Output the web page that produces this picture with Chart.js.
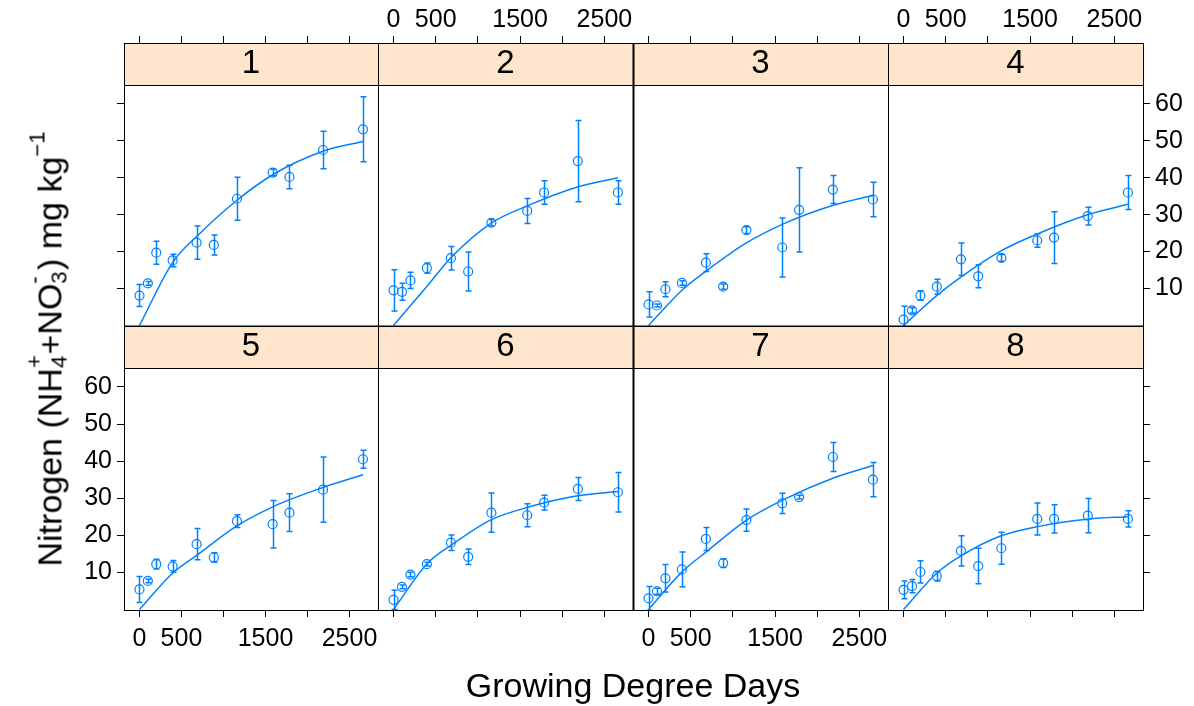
<!DOCTYPE html>
<html>
<head>
<meta charset="utf-8">
<script src="https://cdn.jsdelivr.net/npm/chart.js@4/dist/chart.umd.min.js"></script>
<style>
  body { margin: 0; background: #fff; width: 1194px; height: 706px; position: relative; overflow: hidden;
         font-family: "Liberation Sans", Arial, sans-serif; color: #000; }
  canvas.panel { position: absolute; left: 0; top: 0; }
  #xlab { position: absolute; left: 633px; top: 668px; transform: translateX(-50%); font-size: 34px; line-height: 1; white-space: nowrap; }
  #ylab { position: absolute; left: 47px; top: 349px; transform: translate(-50%, -50%) rotate(-90deg);
          font-size: 34px; line-height: 1; white-space: nowrap; }
  .ss { display: inline-block; position: relative; width: 0.4em; height: 1em; }
  .ss span { position: absolute; left: 0; font-size: 0.65em; line-height: 1; }
  .ss .up { top: -0.2em; }
  .ss .dn { top: 0.97em; }
  .sp { font-size: 0.65em; position: relative; top: -0.75em; }
</style>
</head>
<body>
<div id="charts"></div>
<div id="xlab">Growing Degree Days</div>
<div id="ylab">Nitrogen (NH<span class="ss"><span class="up">+</span><span class="dn">4</span></span>+NO<span class="ss"><span class="up">-</span><span class="dn">3</span></span>) mg kg<span class="sp">−1</span></div>
<script>
// sampling dates (growing degree days), same for every panel
const gdd = [0, 100, 200, 395, 680, 885, 1160, 1585, 1785, 2185, 2660];
const panelLabels = ['1', '2', '3', '4', '5', '6', '7', '8'];
const xTickValues = [0, 500, 1000, 1500, 2000, 2500];
const xTickLabels = ['0', '500', '', '1500', '', '2500'];
const yTickValues = [10, 20, 30, 40, 50, 60];

// mean nitrogen per panel
const nitrogenMean = [
  [8.1, 11.4, 19.7, 17.6, 22.4, 21.8, 34.3, 41.4, 40.2, 47.5, 53.1],
  [9.5, 9.1, 12.2, 15.5, 18.2, 14.6, 27.8, 31.0, 36.0, 44.5, 36.0],
  [5.7, 5.4, 9.8, 11.5, 17.0, 10.5, 25.8, 21.1, 31.3, 36.8, 34.1],
  [1.6, 4.1, 8.1, 10.5, 17.9, 13.3, 18.3, 23.0, 23.8, 29.6, 36.0],
  [5.4, 7.7, 12.2, 11.6, 17.6, 14.0, 23.8, 23.0, 26.1, 32.3, 40.5],
  [2.6, 6.1, 9.4, 12.2, 18.0, 14.2, 26.1, 25.4, 28.8, 32.5, 31.6],
  [3.0, 4.9, 8.4, 10.8, 19.0, 12.5, 24.1, 28.6, 30.3, 41.1, 35.0],
  [5.3, 6.3, 10.1, 9.0, 15.8, 11.7, 16.5, 24.4, 24.4, 25.3, 24.4]
];

// error bar half widths
const nitrogenSE = [
  [3.0, 0.5, 3.1, 1.7, 4.5, 2.7, 5.8, 0.9, 3.2, 5.1, 8.8],
  [5.6, 2.3, 2.2, 1.4, 3.2, 5.3, 0.9, 3.4, 3.2, 11.0, 3.2],
  [3.4, 0.4, 2.0, 0.6, 2.4, 0.7, 0.9, 8.0, 11.4, 3.8, 4.7],
  [3.6, 0.7, 1.3, 2.0, 4.4, 3.1, 0.9, 1.8, 7.0, 2.4, 4.6],
  [3.5, 0.5, 1.3, 1.6, 4.2, 1.3, 1.7, 6.4, 5.1, 8.8, 2.4],
  [2.6, 0.5, 0.6, 0.5, 2.1, 2.1, 5.3, 3.1, 2.0, 3.1, 5.3],
  [3.2, 0.8, 3.7, 4.7, 3.1, 1.2, 3.0, 2.7, 0.5, 3.9, 4.6],
  [2.4, 1.8, 3.0, 1.3, 4.1, 4.8, 4.3, 4.3, 3.8, 4.6, 2.2]
];

const fitGdd = [0, 400, 700, 1150, 1600, 2200, 2660];
const fitN = [
  [0, 17.2, 24.5, 33.7, 41.0, 47.3, 49.8],
  [0, 10.7, 18.8, 27.6, 32.5, 37.6, 40.0],
  [0, 9.6, 15.0, 22.2, 27.5, 32.6, 35.2],
  [0, 8.2, 13.4, 20.1, 24.9, 30.1, 32.8],
  [0, 9.9, 14.9, 22.4, 27.8, 33.0, 36.3],
  [0, 12.4, 17.6, 24.1, 27.6, 30.7, 31.8],
  [0, 10.2, 15.8, 23.9, 29.6, 35.5, 38.8],
  [0, 9.9, 14.7, 19.8, 22.4, 24.4, 25.0]
];

const blue = '#0080ff';
const stripColor = '#ffe5cc';
const fontFamily = '"Liberation Sans", Arial, sans-serif';
const W = 1194, H = 706;
const colLeft = [124, 378, 633, 888];
const colRight = [378, 633, 888, 1143];
const rowTop = [85, 368];
const rowBottom = [326, 610];
const stripH = 42;
const topAxisH = 36, bottomAxisH = 48, yAxisW = 50;

Chart.defaults.font.family = fontFamily;

// error bars drawn through the panel scales
const errorBars = {
  id: 'errorBars',
  afterDatasetsDraw(chart, args, opts) {
    let ctx = chart.ctx;
    let a = chart.chartArea;
    let x = chart.scales.x, y = chart.scales.y;
    let mean = nitrogenMean[opts.panel];
    let se = nitrogenSE[opts.panel];
    ctx.save();
    ctx.beginPath();
    ctx.rect(a.left, a.top, a.right - a.left, a.bottom - a.top);
    ctx.clip();
    ctx.strokeStyle = blue;
    ctx.lineWidth = 1.5;
    for (let j = 0; j < gdd.length; j++) {
      let px = Math.round(x.getPixelForValue(gdd[j])) + 0.5;
      let hi = y.getPixelForValue(mean[j] + se[j]);
      let lo = y.getPixelForValue(mean[j] - se[j]);
      ctx.beginPath();
      ctx.moveTo(px, hi); ctx.lineTo(px, lo);
      ctx.moveTo(px - 3, hi); ctx.lineTo(px + 3, hi);
      ctx.moveTo(px - 3, lo); ctx.lineTo(px + 3, lo);
      ctx.stroke();
    }
    ctx.restore();
  }
};

// strip background + panel frames
const latticeFrame = {
  id: 'latticeFrame',
  beforeDraw(chart) {
    let ctx = chart.ctx, a = chart.chartArea, t = chart.titleBlock;
    ctx.save();
    ctx.fillStyle = stripColor;
    ctx.fillRect(a.left, t.top, a.right - a.left, t.height);
    ctx.restore();
  },
  afterDraw(chart, args, opts) {
    let ctx = chart.ctx, a = chart.chartArea, t = chart.titleBlock;
    ctx.save();
    ctx.strokeStyle = '#000';
    ctx.lineWidth = 1;
    ctx.strokeRect(a.left + 0.5, t.top + 0.5, a.right - a.left, a.bottom - t.top);
    ctx.beginPath();
    ctx.moveTo(a.left, a.top + 0.5); ctx.lineTo(a.right, a.top + 0.5);
    ctx.stroke();
    // heavier middle lines, as in the original
    ctx.lineWidth = 2;
    if (opts.col === 2) {
      ctx.beginPath(); ctx.moveTo(a.left + 0.5, t.top); ctx.lineTo(a.left + 0.5, a.bottom); ctx.stroke();
    }
    if (opts.row === 0) {
      ctx.beginPath(); ctx.moveTo(a.left, a.bottom + 0.5); ctx.lineTo(a.right + 1, a.bottom + 0.5); ctx.stroke();
    }
    ctx.restore();
  }
};

function makePanel(i) {
  let row = i < 4 ? 0 : 1;
  let col = i % 4;
  let canvas = document.createElement('canvas');
  canvas.className = 'panel';
  canvas.width = W;
  canvas.height = H;
  document.getElementById('charts').appendChild(canvas);

  let hasLeft = col === 0, hasRight = col === 3;
  let showXLabels = (row === 0 && (col === 1 || col === 3)) || (row === 1 && (col === 0 || col === 2));
  let showYLabels = (row === 0 && col === 3) || (row === 1 && col === 0);

  let padding = {
    left: colLeft[col] - (hasLeft ? yAxisW : 0),
    right: W - colRight[col] - (hasRight ? yAxisW : 0),
    top: rowTop[row] - stripH - (row === 0 ? topAxisH : 0),
    bottom: H - rowBottom[row] - (row === 1 ? bottomAxisH : 0)
  };

  let points = gdd.map((g, j) => ({ x: g, y: nitrogenMean[i][j] }));
  let curve = fitGdd.map((g, j) => ({ x: g, y: fitN[i][j] }));

  return new Chart(canvas.getContext('2d'), {
    type: 'scatter',
    data: {
      datasets: [{
        data: points,
        pointStyle: 'circle',
        pointRadius: 4.5,
        borderColor: blue,
        backgroundColor: 'transparent',
        borderWidth: 1.2,
        showLine: false
      }, {
        data: curve,
        showLine: true,
        borderColor: blue,
        backgroundColor: 'transparent',
        borderWidth: 1.5,
        pointRadius: 0,
        cubicInterpolationMode: 'monotone',
        fill: false
      }]
    },
    options: {
      responsive: false,
      animation: false,
      devicePixelRatio: 1,
      events: [],
      layout: { padding: padding },
      plugins: {
        legend: { display: false },
        tooltip: { enabled: false },
        title: {
          display: true,
          text: panelLabels[i],
          position: 'top',
          fullSize: false,
          weight: 1,
          padding: 0,
          color: '#000',
          font: { size: 33, weight: 'normal', lineHeight: stripH + 'px' }
        },
        errorBars: { panel: i },
        latticeFrame: { row: row, col: col }
      },
      scales: {
        x: {
          type: 'linear',
          position: row === 0 ? 'top' : 'bottom',
          weight: 10,
          min: -184,
          max: 2839,
          afterBuildTicks: s => { s.ticks = xTickValues.map(v => ({ value: v })); },
          afterFit: s => { s.height = row === 0 ? topAxisH : bottomAxisH; },
          grid: { drawOnChartArea: false, drawTicks: true, tickLength: 7, tickColor: '#000', tickWidth: 1 },
          border: { display: false },
          ticks: {
            autoSkip: false, maxRotation: 0, color: '#000', padding: row === 0 ? 1 : 7,
            font: { size: 25 },
            callback: (v, idx) => showXLabels ? xTickLabels[idx] : ''
          }
        },
        y: {
          type: 'linear',
          display: hasLeft || hasRight,
          position: hasRight ? 'right' : 'left',
          min: -0.15,
          max: 65.1,
          afterBuildTicks: s => { s.ticks = yTickValues.map(v => ({ value: v })); },
          afterFit: s => { if (hasLeft || hasRight) s.width = yAxisW; },
          grid: { drawOnChartArea: false, drawTicks: true, tickLength: 7, tickColor: '#000', tickWidth: 1 },
          border: { display: false },
          ticks: {
            autoSkip: false, color: '#000', padding: 5,
            font: { size: 25 },
            callback: (v) => showYLabels ? String(v) : ''
          }
        }
      }
    },
    plugins: [errorBars, latticeFrame]
  });
}

for (let i = 0; i < 8; i++) {
  makePanel(i);
}
</script>
</body>
</html>
